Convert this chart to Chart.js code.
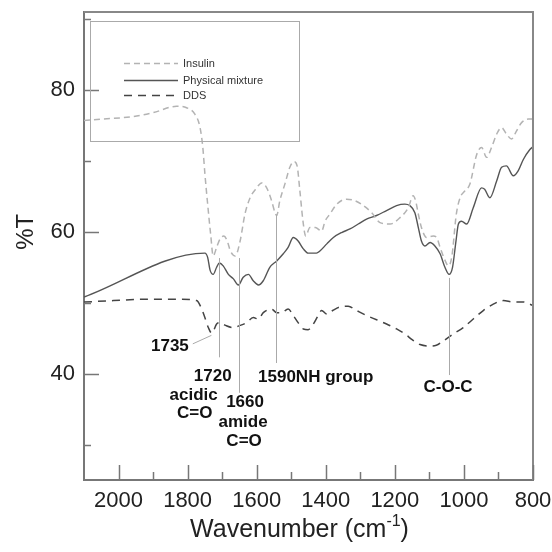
<!DOCTYPE html>
<html><head><meta charset="utf-8">
<script src="https://cdn.jsdelivr.net/npm/chart.js@4"></script>
<style>html,body{margin:0;padding:0;background:#fff}#wrap{width:552px;height:552px;position:relative}canvas{display:block}</style>
</head><body><div id="wrap"><canvas id="c" width="552" height="552" style="width:552px;height:552px"></canvas></div>
<script>
const seriesLabels = ['Insulin', 'Physical mixture', 'DDS'];

const insulinWn = [2100,2050,1967,1900,1832,1803,1779,1764,1756,1750,1741,1733,1726,1716,1706,1695,1686,1676,1662,1648,1634,1619,1600,1586,1571,1557,1547,1542,1533,1518,1504,1492,1483,1475,1466,1458,1446,1430,1412,1402,1388,1368,1340,1316,1291,1267,1243,1214,1185,1161,1147,1140,1132,1123,1108,1089,1079,1069,1055,1045,1035,1022,1011,997,983,963,949,934,920,905,891,877,862,848,833,813,800];
const insulinT  = [75.7,75.9,76.2,76.8,77.7,77.5,76.6,74.7,71.9,68.2,63.4,59.5,56.6,57.8,59.0,59.4,58.8,57.3,56.6,58.7,62.5,64.8,66.2,66.9,66.2,64.4,62.7,62.3,64.4,66.8,69.1,69.9,69.3,65.8,61.5,59.4,60.6,60.6,60.1,61.5,62.5,63.9,64.6,64.4,63.7,62.7,61.3,61.1,62.0,63.4,65.1,64.4,62.5,60.6,59.2,59.4,59.2,57.8,56.0,55.2,56.5,62.5,64.8,65.8,66.7,70.9,71.9,70.5,71.9,73.8,74.7,73.8,73.1,74.2,75.4,75.9,75.9];

const mixtureWn = [2100,1750,1742,1735,1726,1716,1708,1697,1682,1668,1653,1639,1624,1610,1595,1581,1562,1542,1523,1509,1494,1480,1465,1451,1427,1417,1397,1378,1354,1330,1306,1282,1253,1224,1195,1171,1157,1142,1132,1123,1113,1098,1084,1069,1055,1043,1033,1023,1016,1007,992,973,949,940,925,905,891,877,857,843,828,809,800];
const mixtureT  = [50.8,57.0,56.4,54.6,54.0,55.0,55.6,55.2,54.0,53.4,52.5,53.6,54.0,53.1,52.5,53.1,55.0,55.9,56.9,57.8,59.2,58.7,57.6,57.0,57.0,57.3,58.3,59.2,59.9,60.4,61.1,61.8,62.3,63.0,63.7,63.9,63.7,62.7,60.6,58.7,58.0,58.5,58.0,56.9,55.0,54.0,55.0,58.7,61.1,61.5,61.1,63.4,66.2,66.0,64.8,67.2,69.1,69.3,67.9,68.6,70.2,71.6,72.0];

const ddsWn = [2100,2015,1919,1822,1774,1759,1750,1740,1730,1716,1706,1690,1668,1648,1629,1610,1595,1581,1557,1542,1528,1509,1494,1480,1465,1451,1436,1422,1412,1397,1380,1359,1335,1311,1282,1253,1224,1195,1171,1150,1127,1100,1080,1060,1031,1002,973,944,915,886,857,828,800];
const ddsT  = [50.1,50.3,50.5,50.5,50.3,49.1,47.9,46.5,45.7,47.0,47.2,46.8,46.5,46.8,47.2,47.9,47.7,48.6,49.1,48.6,48.6,49.1,48.2,47.2,46.3,46.2,47.0,48.2,48.9,48.4,48.9,49.4,49.5,48.9,48.2,47.6,47.0,46.3,45.6,44.8,44.1,43.9,44.0,44.6,45.6,46.5,47.7,48.9,49.8,50.3,50.1,50.1,49.6];

const xTickLabels = [2000, 1800, 1600, 1400, 1200, 1000, 800];
const xMinorTicks = [1900, 1700, 1500, 1300, 1100, 900];
const yTickLabels = [40, 60, 80];
const yMinorTicks = [30, 50, 70, 90];

// peak marker lines: wavenumber, top %T, bottom %T, label lines
const peakWn     = [1710, 1651, 1544, 1043];
const peakTop    = [56.3, 56.3, 62.4, 53.5];
const peakBottom = [42.3, 37.3, 41.5, 39.8];
const peakText   = [['1720', 'acidic', 'C=O'], ['1660', 'amide', 'C=O'], ['1590NH group'], ['C-O-C']];
// DDS minimum with leader line
const leaderFromWn = 1785, leaderFromT = 44.2, leaderToWn = 1731, leaderToT = 45.4, leaderText = '1735';

const FONT = "'Liberation Sans', Arial, Helvetica, sans-serif";
const AXIS = '#777';

function pts(xs, ys) { return xs.map((x, i) => ({x: x, y: ys[i]})); }

const decor = {
  id: 'decor',
  afterDatasetsDraw(chart) {
    const ctx = chart.ctx, a = chart.chartArea, xs = chart.scales.x, ys = chart.scales.y;
    ctx.save();
    // frame top and right
    ctx.strokeStyle = '#888'; ctx.lineWidth = 2;
    ctx.beginPath(); ctx.moveTo(a.left, a.top); ctx.lineTo(a.right, a.top); ctx.lineTo(a.right, a.bottom); ctx.stroke();
    // inward ticks
    ctx.strokeStyle = AXIS; ctx.lineWidth = 1.5;
    ctx.beginPath();
    xTickLabels.forEach(v => { const p = Math.round(xs.getPixelForValue(v)) + 0.5; ctx.moveTo(p, a.bottom); ctx.lineTo(p, a.bottom - 15); });
    xMinorTicks.forEach(v => { const p = Math.round(xs.getPixelForValue(v)) + 0.5; ctx.moveTo(p, a.bottom); ctx.lineTo(p, a.bottom - 8); });
    yTickLabels.forEach(v => { const p = Math.round(ys.getPixelForValue(v)) + 0.5; ctx.moveTo(a.left, p); ctx.lineTo(a.left + 15, p); });
    yMinorTicks.forEach(v => { const p = Math.round(ys.getPixelForValue(v)) + 0.5; ctx.moveTo(a.left, p); ctx.lineTo(a.left + 7, p); });
    ctx.stroke();

    // peak lines
    ctx.strokeStyle = '#aaa'; ctx.lineWidth = 1;
    ctx.beginPath();
    peakWn.forEach((w, i) => {
      const px = Math.round(xs.getPixelForValue(w)) + 0.5;
      ctx.moveTo(px, ys.getPixelForValue(peakTop[i])); ctx.lineTo(px, ys.getPixelForValue(peakBottom[i]));
    });
    ctx.moveTo(xs.getPixelForValue(leaderFromWn), ys.getPixelForValue(leaderFromT));
    ctx.lineTo(xs.getPixelForValue(leaderToWn), ys.getPixelForValue(leaderToT));
    ctx.stroke();

    // peak labels
    ctx.fillStyle = '#111'; ctx.font = 'bold 17px ' + FONT; ctx.textBaseline = 'middle';
    const offs = [
      [[-6, 19, 'center'], [-25, 38, 'center'], [-24, 56, 'center']],
      [[6, 10, 'center'], [4, 30, 'center'], [5, 49, 'center']],
      [[-18, 14, 'left']],
      [[-1, 12, 'center']]
    ];
    peakWn.forEach((w, i) => {
      const px = xs.getPixelForValue(w), py = ys.getPixelForValue(peakBottom[i]);
      peakText[i].forEach((t, j) => {
        const o = offs[i][j]; ctx.textAlign = o[2]; ctx.fillText(t, px + o[0], py + o[1]);
      });
    });
    ctx.textAlign = 'right';
    ctx.fillText(leaderText, xs.getPixelForValue(leaderFromWn) - 4, ys.getPixelForValue(leaderFromT) + 2);

    // legend box
    const lx = a.left + 6, ly = a.top + 9;
    ctx.strokeStyle = '#aaa'; ctx.lineWidth = 1;
    ctx.strokeRect(lx + 0.5, ly + 0.5, 209, 120);
    ctx.font = '11px ' + FONT; ctx.textAlign = 'left'; ctx.textBaseline = 'middle'; ctx.fillStyle = '#333';
    const rows = [42, 59, 74];
    chart.data.datasets.forEach((ds, i) => {
      const y = ly + rows[i] + 0.5;
      ctx.strokeStyle = ds.borderColor; ctx.lineWidth = ds.borderWidth;
      ctx.setLineDash(ds.borderDash || []);
      ctx.beginPath(); ctx.moveTo(lx + 34, y); ctx.lineTo(lx + 88, y); ctx.stroke();
      ctx.setLineDash([]);
      ctx.fillText(ds.label, lx + 93, y);
    });

    // axis titles
    ctx.fillStyle = '#222';
    ctx.font = '25px ' + FONT; ctx.textBaseline = 'alphabetic';
    const t1 = 'Wavenumber (cm', t3 = ')';
    const w1 = ctx.measureText(t1).width, w3 = ctx.measureText(t3).width;
    ctx.font = '16px ' + FONT; const t2 = '-1'; const w2 = ctx.measureText(t2).width;
    const cx = (a.left + a.right) / 2 - 9, base = 537;
    let x0 = cx - (w1 + w2 + w3) / 2;
    ctx.font = '25px ' + FONT; ctx.textAlign = 'left';
    ctx.fillText(t1, x0, base);
    ctx.font = '16px ' + FONT; ctx.fillText(t2, x0 + w1, base - 11);
    ctx.font = '25px ' + FONT; ctx.fillText(t3, x0 + w1 + w2, base);
    ctx.save();
    ctx.translate(26, ys.getPixelForValue(60)); ctx.rotate(-Math.PI / 2);
    ctx.font = '24px ' + FONT;
    ctx.textAlign = 'center'; ctx.textBaseline = 'middle'; ctx.fillText('%T', 0, 0);
    ctx.restore();
    ctx.restore();
  }
};

new Chart(document.getElementById('c'), {
  type: 'line',
  data: {
    datasets: [
      {label: seriesLabels[0], data: pts(insulinWn, insulinT), borderColor: '#b3b3b3', borderWidth: 1.5, borderDash: [6, 4]},
      {label: seriesLabels[1], data: pts(mixtureWn, mixtureT), borderColor: '#555', borderWidth: 1.4},
      {label: seriesLabels[2], data: pts(ddsWn, ddsT), borderColor: '#444', borderWidth: 1.5, borderDash: [8, 6]}
    ]
  },
  options: {
    responsive: false, maintainAspectRatio: false, animation: false, devicePixelRatio: 1,
    elements: {point: {radius: 0}, line: {cubicInterpolationMode: 'monotone', fill: false}},
    layout: {padding: {left: 0, right: 19, top: 12, bottom: 0}},
    plugins: {legend: {display: false}, tooltip: {enabled: false}},
    scales: {
      x: {
        type: 'linear', reverse: true, min: 800, max: 2100,
        afterFit: s => { s.height = 72; s.paddingLeft = 0; s.paddingRight = 0; },
        afterBuildTicks: s => { s.ticks = xTickLabels.map(v => ({value: v})); },
        grid: {display: false, drawTicks: false},
        border: {display: true, color: AXIS, width: 2},
        ticks: {font: {size: 22, family: FONT}, color: '#222', padding: 8, maxRotation: 0, autoSkip: false, callback: v => String(v)}
      },
      y: {
        type: 'linear', min: 25, max: 91,
        afterFit: s => { s.width = 84; s.paddingTop = 0; s.paddingBottom = 0; },
        afterBuildTicks: s => { s.ticks = yTickLabels.map(v => ({value: v})); },
        grid: {display: false, drawTicks: false},
        border: {display: true, color: AXIS, width: 2},
        ticks: {font: {size: 22, family: FONT}, color: '#222', padding: 9, callback: v => String(v)}
      }
    }
  },
  plugins: [decor]
});
</script>
</body></html>
